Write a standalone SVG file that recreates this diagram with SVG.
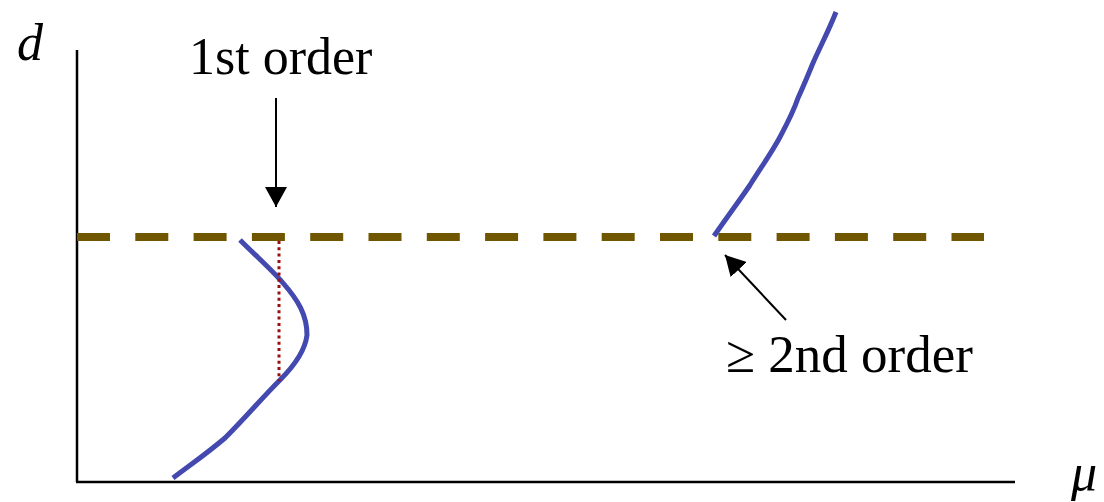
<svg xmlns="http://www.w3.org/2000/svg" width="1104" height="502" viewBox="0 0 1104 502">
<style>
.lbl{font-family:"Liberation Serif","Times New Roman",serif;font-size:52px;fill:#000}
.it{font-style:italic}
.curve{fill:none;stroke:#4349AE;stroke-width:5;stroke-linecap:butt;stroke-linejoin:round}
.ax{stroke:#000;stroke-width:2.5;fill:none}
.arr{stroke:#000;stroke-width:2;fill:none}
</style>
<defs>
<marker id="ahb" viewBox="0 0 20 22" refX="20" refY="11" markerWidth="20" markerHeight="22" markerUnits="userSpaceOnUse" orient="auto">
<path d="M0,0 L20,11 L0,22 Z" fill="#000"/>
</marker>
</defs>
<g id="axes">
<line class="ax" x1="77" y1="50" x2="77" y2="482"/>
<line class="ax" x1="76" y1="482" x2="1015" y2="482"/>
<text class="lbl it" x="17" y="60">d</text>
<text class="lbl it" x="1071" y="490">μ</text>
</g>
<g id="threshold">
<line x1="77" y1="237" x2="984" y2="237" stroke="#715600" stroke-width="8" stroke-dasharray="33 25.3"/>
</g>
<g id="curve-left">
<path class="curve" d="M240,240 C255,255 272,270 283,283 C298,300 307,315 307,335 C305,352 292,368 280,380 C262,398 245,418 225,438 C205,455 190,465 173,478"/>
<line x1="279" y1="241" x2="279" y2="381" stroke="#9B0F0F" stroke-width="3" stroke-dasharray="3 3.3"/>
</g>
<g id="curve-right">
<path class="curve" d="M714,236 C730,213 742,197 750,185 C762,166 772,152 780,137 C788,122 794,110 798,98 C804,85 808,75 813,63 C820,47 829,30 836,12"/>
</g>
<g id="label-first">
<text class="lbl" x="189" y="74">1st order</text>
</g>
<g id="label-second">
<text class="lbl" x="726" y="372" style="font-size:53px">≥ 2nd order</text>
</g>
<g id="connectors">
<line class="arr" x1="276" y1="98" x2="276" y2="207" marker-end="url(#ahb)"/>
<line class="arr" x1="786" y1="320" x2="725" y2="255" marker-end="url(#ahb)"/>
</g>
</svg>
